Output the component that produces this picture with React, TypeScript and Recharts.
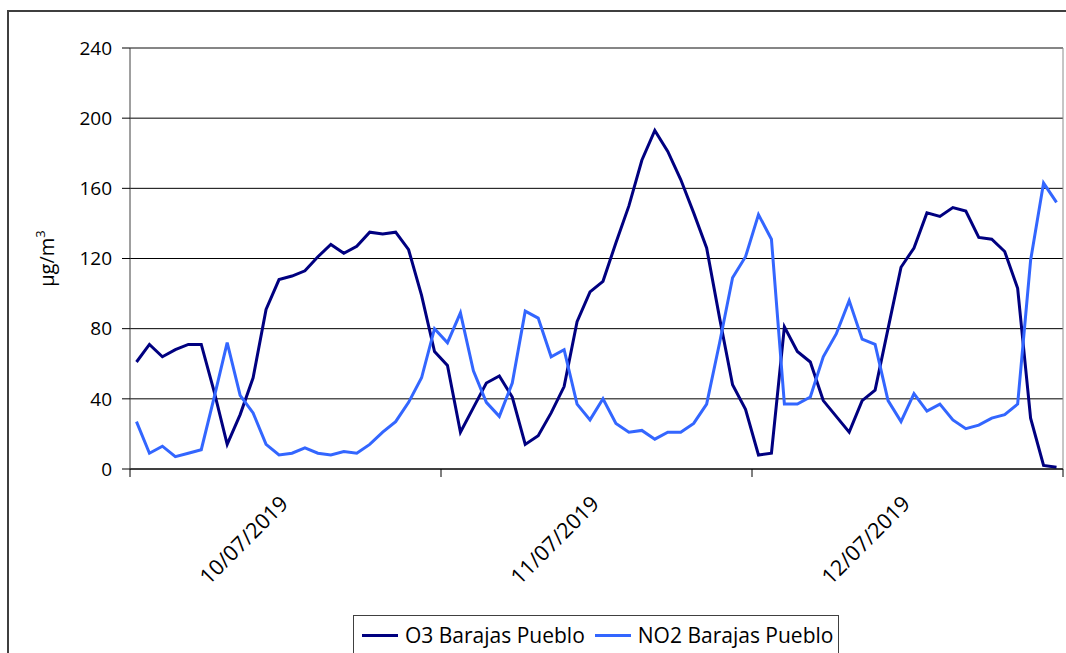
import {
  LineChart,
  Line,
  XAxis,
  YAxis,
  CartesianGrid,
  Legend,
  ReferenceLine,
} from "recharts";

// hourly values, 10/07/2019 00h to 12/07/2019 23h
const o3 = [
  61, 71, 64, 68, 71, 71, 44, 14, 31, 52, 91, 108, 110, 113, 121, 128, 123, 127,
  135, 134, 135, 125, 99, 67, 59, 21, 35, 49, 53, 41, 14, 19, 32, 47, 84, 101,
  107, 129, 150, 176, 193, 181, 165, 146, 126, 86, 48, 34, 8, 9, 81, 67, 61, 39,
  30, 21, 39, 45, 80, 115, 126, 146, 144, 149, 147, 132, 131, 124, 103, 29, 2, 1,
];

const no2 = [
  27, 9, 13, 7, 9, 11, 41, 72, 42, 32, 14, 8, 9, 12, 9, 8, 10, 9, 14, 21, 27, 38,
  52, 80, 72, 89, 56, 38, 30, 49, 90, 86, 64, 68, 37, 28, 40, 26, 21, 22, 17, 21,
  21, 26, 37, 72, 109, 121, 145, 131, 37, 37, 41, 64, 77, 96, 74, 71, 39, 27, 43,
  33, 37, 28, 23, 25, 29, 31, 37, 119, 163, 152,
];

const days = ["10/07/2019", "11/07/2019", "12/07/2019"];
const yTicks = [0, 40, 80, 120, 160, 200, 240];
const seriesNames = ["O3 Barajas Pueblo", "NO2 Barajas Pueblo"];

const HOURS = 24;
const FONT = "'Open Sans', 'Noto Sans', sans-serif";

const chartData = o3.map((v, i) => ({
  t: i + 0.5,
  o3: v,
  no2: no2[i],
}));

const xTicks: number[] = [];
for (let d = 0; d <= days.length * 2; d++) xTicks.push((d * HOURS) / 2);

function DayTick(props: any) {
  const { x, y, payload } = props;
  const v = payload.value as number;
  if (v % HOURS === 0) {
    return <line x1={x} y1={y} x2={x} y2={y + 8} stroke="#000" />;
  }
  const label = days[Math.floor(v / HOURS)];
  const ax = x + 4;
  const ay = y + 36;
  return (
    <text
      x={ax}
      y={ay}
      textAnchor="end"
      transform={`rotate(-45 ${ax} ${ay})`}
      fontSize={21.5}
      fontFamily={FONT}
      fill="#000"
    >
      {label}
    </text>
  );
}

function YLabel(props: any) {
  const vb = props.viewBox || { x: 60, y: 48, width: 70, height: 421 };
  const cx = vb.x - 6;
  const cy = vb.y + vb.height / 2;
  return (
    <text
      x={cx}
      y={cy}
      textAnchor="middle"
      transform={`rotate(-90 ${cx} ${cy})`}
      fontSize={20}
      fontFamily={FONT}
      fill="#000"
    >
      µg/m
      <tspan dy={-9} fontSize={13}>
        3
      </tspan>
    </text>
  );
}

function LegendBox(props: any) {
  const items = [...(props.payload || [])].sort(
    (a: any, b: any) => seriesNames.indexOf(a.value) - seriesNames.indexOf(b.value)
  );
  return (
    <div
      style={{
        border: "1px solid #404040",
        background: "#fff",
        height: 60,
        boxSizing: "border-box",
        display: "flex",
        alignItems: "flex-start",
        paddingTop: 5,
        paddingLeft: 8,
        fontFamily: FONT,
        fontSize: 21,
        color: "#000",
        whiteSpace: "nowrap",
      }}
    >
      {items.map((it: any) => (
        <div
          key={it.value}
          style={{ display: "flex", alignItems: "center", marginRight: 10 }}
        >
          <span
            style={{
              display: "inline-block",
              width: 36,
              height: 3,
              background: it.color,
              marginRight: 7,
            }}
          />
          <span>{it.value}</span>
        </div>
      ))}
    </div>
  );
}

export default function App() {
  return (
    <div
      style={{
        position: "absolute",
        left: 0,
        top: 0,
        width: 1066,
        height: 653,
        overflow: "hidden",
        background: "#fff",
      }}
    >
      <div
        style={{
          position: "absolute",
          left: 7,
          top: 10,
          width: 1100,
          height: 700,
          border: "2px solid #3f3f3f",
          boxSizing: "border-box",
        }}
      />
      <div style={{ position: "absolute", left: 0, top: 0 }}>
        <LineChart
          width={1066}
          height={653}
          data={chartData}
          margin={{ top: 48, right: 3, left: 60, bottom: 100 }}
        >
          <CartesianGrid vertical={false} stroke="#000" />
          <XAxis
            dataKey="t"
            type="number"
            domain={[0, days.length * HOURS]}
            ticks={xTicks}
            interval={0}
            tickLine={false}
            tickSize={0}
            tickMargin={0}
            tick={<DayTick />}
            axisLine={{ stroke: "#000" }}
            height={84}
          />
          <YAxis
            domain={[0, 240]}
            ticks={yTicks}
            interval={0}
            width={70}
            tickSize={8}
            tickMargin={10}
            axisLine={{ stroke: "#404040" }}
            tickLine={{ stroke: "#000" }}
            tick={{ fill: "#000", fontSize: 19, fontFamily: FONT }}
            label={<YLabel />}
          />
          <ReferenceLine y={240} stroke="#8c8c8c" />
          <ReferenceLine x={days.length * HOURS} stroke="#8c8c8c" />
          <Line
            type="linear"
            dataKey="o3"
            name={seriesNames[0]}
            stroke="#000080"
            strokeWidth={3}
            dot={false}
            isAnimationActive={false}
          />
          <Line
            type="linear"
            dataKey="no2"
            name={seriesNames[1]}
            stroke="#3366ff"
            strokeWidth={3}
            dot={false}
            isAnimationActive={false}
          />
          <Legend
            layout="horizontal"
            verticalAlign="middle"
            align="center"
            content={<LegendBox />}
            wrapperStyle={{ left: 353, top: 615, width: 486, height: 60 }}
          />
        </LineChart>
      </div>
    </div>
  );
}
